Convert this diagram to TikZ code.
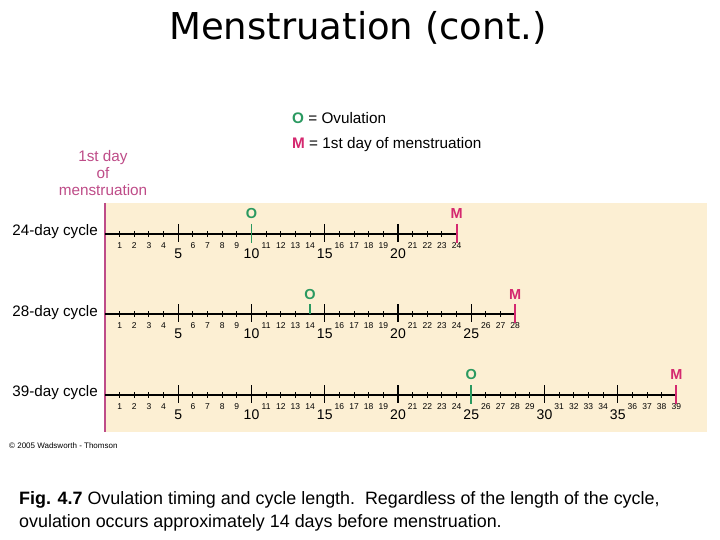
\documentclass[tikz,border=0pt]{standalone}
\usepackage{fontspec}
\setmainfont{Liberation Sans}
\newfontfamily\titlefont{DejaVu Sans}
\usepackage{tikz}
\usetikzlibrary{positioning}
\definecolor{cream}{HTML}{FCEFD3}
\definecolor{mpink}{HTML}{D4286F}
\definecolor{lpink}{HTML}{BE4C88}
\definecolor{ogreen}{HTML}{2A9960}
\tikzset{
  daylbl/.style={font=\fontsize{8.5}{8.5}\selectfont, inner sep=0pt},
  fivelbl/.style={font=\fontsize{14}{14}\selectfont, inner sep=0pt},
  cyclbl/.style={font=\fontsize{15.2}{15.2}\selectfont, anchor=east, inner sep=0pt},
  olbl/.style={font=\fontsize{14.5}{14.5}\selectfont\bfseries, text=ogreen, inner sep=0pt},
  mlbl/.style={font=\fontsize{14.5}{14.5}\selectfont\bfseries, text=mpink, inner sep=0pt},
  axisline/.style={line width=1.4pt},
  minortick/.style={line width=1pt},
  majortick/.style={line width=1.4pt},
  otick/.style={line width=1.8pt, ogreen},
  mtick/.style={line width=1.8pt, mpink},
}
% x position of a day
\newcommand{\dayx}[1]{105+14.65*#1}

\begin{document}
\begin{tikzpicture}[x=1pt, y=-1pt]
\useasboundingbox (0,0) rectangle (720,540);
\node (title) at (358,28) {\titlefont\fontsize{37}{37}\selectfont Menstruation (cont.)};
\node[anchor=west, font=\fontsize{15.3}{15.3}\selectfont, inner sep=0pt] (legO) at (292,118) {\textbf{\color{ogreen}O} = Ovulation};
\node[anchor=west, font=\fontsize{15.3}{15.3}\selectfont, inner sep=0pt] (legM) at (292,145) {\textbf{\color{mpink}M} = 1st day of menstruation};
\node[align=center, text=lpink, font=\fontsize{15.3}{17}\selectfont, inner sep=0pt] (firstday) at (103,173) {1st day\\of\\menstruation};
\fill[cream] (105,203) rectangle (707,432);
\coordinate (mtop) at (105,203);
\coordinate (mbot) at (105,432);
\draw[lpink, line width=1.8pt] (mtop) -- (mbot);

% 24-day cycle
\node[cyclbl] (c24) at (98,232) {24-day cycle};
\coordinate (a24s) at (105,234);
\coordinate (a24e) at ({\dayx{24}},234);
\draw[axisline] (a24s) -- (a24e);
\foreach \d in {1,2,3,4,6,7,8,9,11,12,13,14,16,17,18,19,21,22,23}
  \draw[minortick] ({\dayx{\d}},231) -- ({\dayx{\d}},237);
\foreach \d in {5,15,20}
  \draw[majortick] ({\dayx{\d}},224) -- ({\dayx{\d}},242);
\foreach \d in {1,2,3,4,6,7,8,9,11,12,13,14,16,17,18,19,21,22,23,24}
  \node[daylbl] (d24-\d) at ({\dayx{\d}},246) {\d};
\foreach \d in {5,10,15,20}
  \node[fivelbl] (f24-\d) at ({\dayx{\d}},254) {\d};
\draw[otick] ({\dayx{10}},224) -- ({\dayx{10}},243);
\draw[mtick] ({\dayx{24}},224) -- ({\dayx{24}},243);
\node[olbl] (o24) at ({\dayx{10}},214) {O};
\node[mlbl] (m24) at ({\dayx{24}},214) {M};

% 28-day cycle
\node[cyclbl] (c28) at (98,313) {28-day cycle};
\coordinate (a28s) at (105,314);
\coordinate (a28e) at ({\dayx{28}},314);
\draw[axisline] (a28s) -- (a28e);
\foreach \d in {1,2,3,4,6,7,8,9,11,12,13,16,17,18,19,21,22,23,24,26,27}
  \draw[minortick] ({\dayx{\d}},311) -- ({\dayx{\d}},317);
\foreach \d in {5,10,15,20,25}
  \draw[majortick] ({\dayx{\d}},304) -- ({\dayx{\d}},322);
\foreach \d in {1,2,3,4,6,7,8,9,11,12,13,14,16,17,18,19,21,22,23,24,26,27,28}
  \node[daylbl] (d28-\d) at ({\dayx{\d}},326) {\d};
\foreach \d in {5,10,15,20,25}
  \node[fivelbl] (f28-\d) at ({\dayx{\d}},334) {\d};
\draw[otick] ({\dayx{14}},304) -- ({\dayx{14}},314);
\draw[mtick] ({\dayx{28}},304) -- ({\dayx{28}},323);
\node[olbl] (o28) at ({\dayx{14}},295) {O};
\node[mlbl] (m28) at ({\dayx{28}},295) {M};

% 39-day cycle
\node[cyclbl] (c39) at (98,393) {39-day cycle};
\coordinate (a39s) at (105,395);
\coordinate (a39e) at ({\dayx{39}},395);
\draw[axisline] (a39s) -- (a39e);
\foreach \d in {1,2,3,4,6,7,8,9,11,12,13,14,16,17,18,19,21,22,23,24,26,27,28,29,31,32,33,34,36,37,38}
  \draw[minortick] ({\dayx{\d}},392) -- ({\dayx{\d}},398);
\foreach \d in {5,10,15,20,30,35}
  \draw[majortick] ({\dayx{\d}},385) -- ({\dayx{\d}},403);
\foreach \d in {1,2,3,4,6,7,8,9,11,12,13,14,16,17,18,19,21,22,23,24,26,27,28,29,31,32,33,34,36,37,38,39}
  \node[daylbl] (d39-\d) at ({\dayx{\d}},407) {\d};
\foreach \d in {5,10,15,20,25,30,35}
  \node[fivelbl] (f39-\d) at ({\dayx{\d}},415) {\d};
\draw[otick] ({\dayx{25}},385) -- ({\dayx{25}},404);
\draw[mtick] ({\dayx{39}},385) -- ({\dayx{39}},404);
\node[olbl] (o39) at ({\dayx{25}},375) {O};
\node[mlbl] (m39) at ({\dayx{39}},375) {M};

\node[anchor=west, font=\fontsize{8}{8}\selectfont, inner sep=0pt] (copy) at (9,446) {\copyright{} 2005 Wadsworth - Thomson};
\node[anchor=north west, align=left, font=\fontsize{17.9}{23}\selectfont, inner sep=0pt] (caption) at (19,491) {\textbf{Fig. 4.7} Ovulation timing and cycle length.\ \ Regardless of the length of the cycle,\\ovulation occurs approximately 14 days before menstruation.};
\end{tikzpicture}
\end{document}
